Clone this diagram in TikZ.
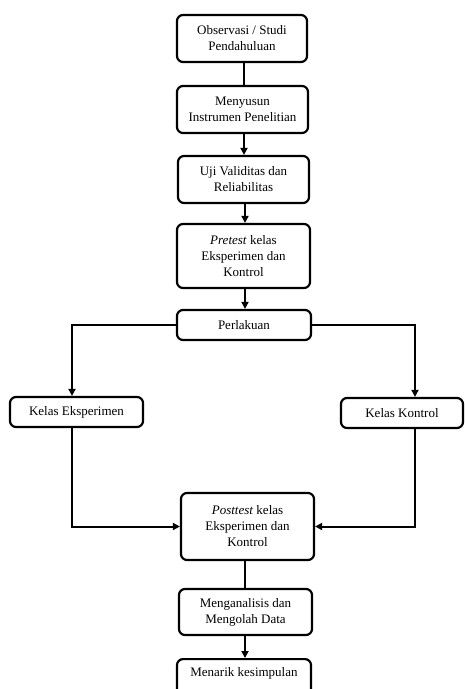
\documentclass[tikz,border=0pt]{standalone}
\usepackage{fontspec}
\setmainfont{Liberation Serif}
\usetikzlibrary{arrows.meta}
\begin{document}
\begin{tikzpicture}[x=1pt,y=-1pt,
  box/.style={draw=black, line width=2.2pt, rounded corners=6pt, align=center,
    inner sep=2pt, font=\fontsize{13}{16}\selectfont, fill=white},
  conn/.style={line width=2pt},
  arr/.style={line width=2pt, -{Triangle[length=7pt,width=7pt]}}]
\useasboundingbox (0,0) rectangle (465,689);
\clip (0,0) rectangle (465,689);
\node[box, minimum width=130pt, minimum height=47pt] (b1) at (242,38.5) {Observasi / Studi\\Pendahuluan};
\node[box, minimum width=131pt, minimum height=47pt] (b2) at (242.5,109.5) {Menyusun\\Instrumen Penelitian};
\node[box, minimum width=131pt, minimum height=47pt] (b3) at (243.5,179.5) {Uji Validitas dan\\Reliabilitas};
\node[box, minimum width=133pt, minimum height=64pt] (b4) at (243.5,256) {\textit{Pretest} kelas\\Eksperimen dan\\Kontrol};
\node[box, minimum width=134pt, minimum height=30pt] (b5) at (244,325) {Perlakuan};
\node[box, minimum width=133pt, minimum height=30pt] (ke) at (76.5,412) {Kelas Eksperimen};
\node[box, minimum width=122pt, minimum height=30pt] (kk) at (402,413) {Kelas Kontrol};
\node[box, minimum width=133pt, minimum height=67pt] (b6) at (247.5,526.5) {\textit{Posttest} kelas\\Eksperimen dan\\Kontrol};
\node[box, minimum width=133pt, minimum height=46pt] (b7) at (245.5,612) {Menganalisis dan\\Mengolah Data};
\node[box, minimum width=134pt, minimum height=46pt, anchor=north] (b8) at (244,658) {};
\node[font=\fontsize{13}{16}\selectfont, anchor=base] (b8t) at (244,676) {Menarik kesimpulan};
\coordinate (x1) at (244,0);
\coordinate (x2) at (245,0);
\draw[conn] (x1 |- b1.south) -- (x1 |- b2.north);
\draw[arr] (x1 |- b2.south) -- (x1 |- b3.north);
\draw[arr] (x2 |- b3.south) -- (x2 |- b4.north);
\draw[arr] (x2 |- b4.south) -- (x2 |- b5.north);
\coordinate (kein) at (72,0);
\coordinate (kkin) at (415,0);
\draw[arr] (b5.west) -| (kein |- ke.north);
\draw[arr] (b5.east) -| (kkin |- kk.north);
\draw[arr] (kein |- ke.south) |- (b6.west);
\draw[arr] (kkin |- kk.south) |- (b6.east);
\draw[conn] (x2 |- b6.south) -- (x2 |- b7.north);
\draw[arr] (x2 |- b7.south) -- (x2 |- b8.north);
\end{tikzpicture}
\end{document}
